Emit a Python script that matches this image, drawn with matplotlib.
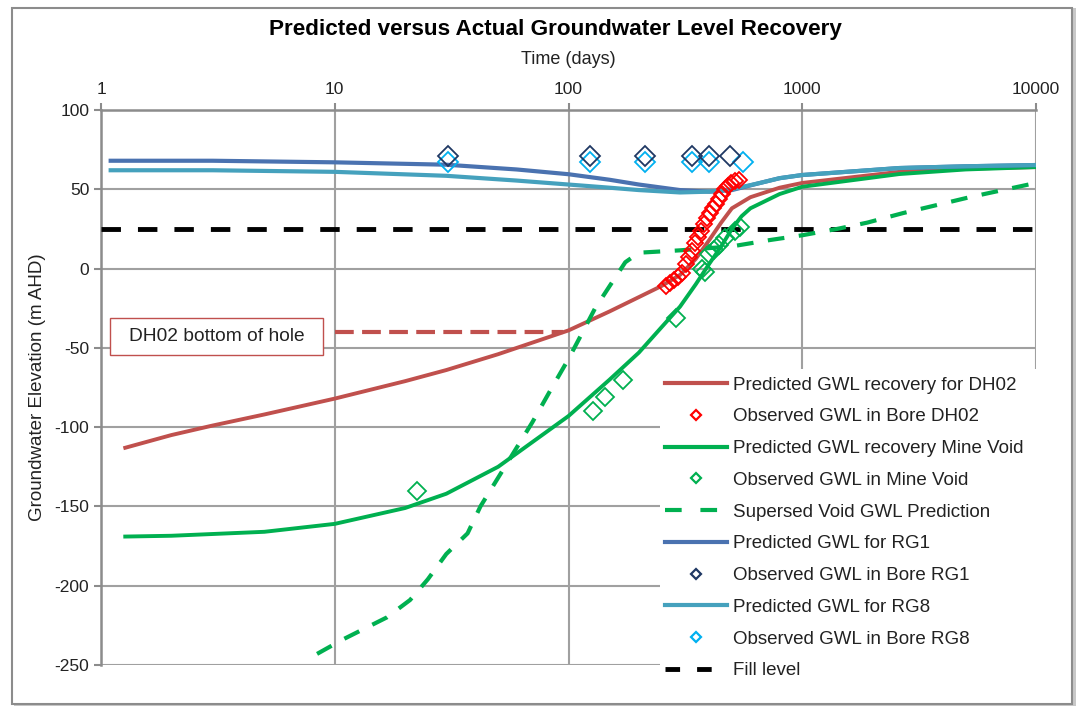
import matplotlib
matplotlib.use("Agg")
import matplotlib.pyplot as plt
import matplotlib.patches as patches
from matplotlib.ticker import FixedLocator, FixedFormatter, NullLocator
import numpy as np


# =====================================================================================================================

plt.rcParams['font.family'] = ['Liberation Sans', 'DejaVu Sans']
plt.rcParams['axes.unicode_minus'] = False

# Predicted GWL recovery for DH02
dh02_t = [1.27, 2, 3, 5, 10, 20, 30, 50, 100, 150, 200, 250, 300, 350, 400, 450, 500, 600, 800, 1000, 2600, 5000, 10000]
dh02_y = [-113, -105, -99, -92, -82, -71, -64, -54, -39, -27, -18, -11, -4, 6, 18, 29, 38, 45, 51, 54, 61, 63, 64]

# Observed GWL in Bore DH02
obs_dh02_t = [261, 272, 283, 294, 306, 318, 328, 338, 348, 358, 369, 380, 391, 403, 415, 428, 440, 454, 467, 481, 496,
              516, 536]
obs_dh02_y = [-11, -9, -7, -5, -3, 3, 7, 11, 16, 20, 24, 28, 32, 35, 38, 41, 44, 47, 50, 52, 54, 55, 56]

# Predicted GWL recovery Mine Void
void_t = [1.27, 2, 5, 10, 20, 30, 50, 100, 150, 200, 250, 300, 350, 400, 450, 500, 550, 600, 800, 1000, 2600, 5000,
          10000]
void_y = [-169, -168.5, -166, -161, -151, -142, -125, -93, -70, -53, -37, -24, -10, 3, 14, 25, 33, 38, 47, 51.6, 59.6,
          62.5, 64]

# Observed GWL in Mine Void
obs_void_t = [22.5, 127, 143, 171, 288, 372, 385, 400, 420, 440, 465, 515, 540]
obs_void_y = [-140, -90, -81, -70, -31, 0, -2, 9, 12, 15, 19, 24, 26]

# Supersed Void GWL Prediction
old_void_t = [8.4, 10.8, 16.7, 21, 25, 30, 37, 42, 55, 70, 85, 100, 115, 130, 150, 175, 200, 300, 500, 728, 1000,
              1409, 1900, 2700, 3750, 5200, 7200, 10000]
old_void_y = [-243, -234, -220, -209, -196, -180, -167, -150, -122, -97, -75, -57, -40, -25, -11, 4, 10, 11.5, 14, 18,
              21, 25, 29, 35, 40, 45, 49.5, 54]

# Predicted / observed GWL for RG1
rg1_t = [1.1, 3, 10, 30, 60, 100, 150, 200, 300, 400, 500, 660, 800, 1000, 2600, 5000, 10000]
rg1_y = [68, 68, 67, 65.5, 62.5, 59.5, 56, 53, 49.5, 48.5, 49.5, 54, 57, 59, 63.4, 64.5, 65.3]
obs_rg1_t = [30.5, 123.6, 212, 337, 399, 491]
obs_rg1_y = [71, 71, 71, 71, 71, 71]

# Predicted / observed GWL for RG8
rg8_t = [1.1, 3, 10, 30, 60, 100, 150, 200, 300, 400, 500, 660, 800, 1000, 2600, 5000, 10000]
rg8_y = [62, 62, 61, 58.5, 55.5, 53, 51, 49.5, 48, 48.5, 50, 54, 57, 59, 63.4, 64.5, 65.3]
obs_rg8_t = [30.5, 123.6, 212, 337, 399, 558]
obs_rg8_y = [67, 67, 67, 67, 67, 67]

# Fill level and DH02 bottom of hole
fill_t = [1, 10000]
fill_y = [25, 25]
hole_t = [10, 95]
hole_y = [-40, -40]

x_ticks = [1, 10, 100, 1000, 10000]
y_ticks = [100, 50, 0, -50, -100, -150, -200, -250]

# =====================================================================================================================

fig = plt.figure(figsize=(10.79, 7.08), dpi=100)
ax = fig.add_axes([101 / 1079, 1 - 665 / 708, 935 / 1079, 555 / 708])

# outer chart frame
fig.patches.append(patches.Rectangle((14 / 1079, 1 - 706 / 708), 1062 / 1079, 698 / 708, transform=fig.transFigure,
                                     facecolor='#c8c8c8', edgecolor='none', zorder=-2))
fig.patches.append(patches.Rectangle((12 / 1079, 1 - 704 / 708), 1060 / 1079, 696 / 708, transform=fig.transFigure,
                                     facecolor='white', edgecolor='#8c8c8c', linewidth=1.5, zorder=-1))

red_line = '#c0504d'
green = '#00b050'

ax.plot(hole_t, hole_y, color=red_line, linewidth=3, dashes=(4.5, 2), zorder=3)
ax.plot(fill_t, fill_y, color='black', linewidth=3.5, dashes=(4, 3.5), zorder=3)

ax.plot(dh02_t, dh02_y, color=red_line, linewidth=2.8, zorder=4)
ax.plot(void_t, void_y, color=green, linewidth=2.8, zorder=4)
ax.plot(old_void_t, old_void_y, color=green, linewidth=3, dashes=(4, 3.5), zorder=4)
ax.plot(rg1_t, rg1_y, color='#4a72b0', linewidth=3, zorder=4)
ax.plot(rg8_t, rg8_y, color='#45a1bd', linewidth=3, zorder=4)

mk = dict(marker='D', linestyle='none', markerfacecolor='none', markeredgewidth=1.3, zorder=5)
ax.plot(obs_dh02_t, obs_dh02_y, markeredgecolor='#ff0000', markersize=8.5, **mk)
ax.plot(obs_void_t, obs_void_y, markeredgecolor=green, markersize=9, **mk)
ax.plot(obs_rg8_t, obs_rg8_y, markeredgecolor='#00b0f0', markersize=10, **mk)
ax.plot(obs_rg1_t, obs_rg1_y, markeredgecolor='#1f3864', markersize=10, **mk)

ax.set_xscale('log')
ax.set_xlim(1, 10000)
ax.set_ylim(-250, 100)
ax.xaxis.set_major_locator(FixedLocator(x_ticks))
ax.xaxis.set_major_formatter(FixedFormatter([str(t) for t in x_ticks]))
ax.xaxis.set_minor_locator(NullLocator())
ax.yaxis.set_major_locator(FixedLocator(y_ticks))
ax.yaxis.set_major_formatter(FixedFormatter([str(t) for t in y_ticks]))
ax.xaxis.tick_top()
ax.xaxis.set_label_position('top')
ax.tick_params(axis='both', direction='out', length=5, width=1.5, color='#8c8c8c', labelsize=12.5, labelcolor='#222222')
ax.tick_params(axis='x', pad=4)
ax.grid(True, color='#a0a0a0', linewidth=1.5)
ax.set_axisbelow(True)
for side in ['right', 'bottom']:
    ax.spines[side].set_visible(False)
for side in ['left', 'top']:
    ax.spines[side].set_color('#8c8c8c')
    ax.spines[side].set_linewidth(1.8)

ax.set_xlabel("Time (days)", fontsize=13, labelpad=13, color='#222222')
ax.set_ylabel("Groundwater Elevation (m AHD)", fontsize=13.5, labelpad=6, color='#222222')
fig.text(555 / 1079, 1 - 30 / 708, "Predicted versus Actual Groundwater Level Recovery", fontsize=16.2,
         fontweight='bold', ha='center', va='center')

# DH02 bottom of hole label box
ax.add_patch(patches.Rectangle((0.0096, 0.5586), 0.2278, 0.0667, transform=ax.transAxes, facecolor='white',
                               edgecolor=red_line, linewidth=1, zorder=6))
ax.text(0.1235, 0.592, "DH02 bottom of hole", transform=ax.transAxes, fontsize=13.8, ha='center', va='center',
        color='#222222', zorder=7)

# white legend area, reaching past the plot edges like the original
ax.add_patch(patches.Rectangle((0.598, -0.056), 0.41, 0.59, transform=ax.transAxes, facecolor='white',
                               edgecolor='none', clip_on=False, zorder=7))

# legend, in the order of the original
lm = dict(marker='D', linestyle='none', markerfacecolor='none', markeredgewidth=1.6, markersize=5)
handles = [
    plt.Line2D([], [], color=red_line, linewidth=3),
    plt.Line2D([], [], markeredgecolor='#ff0000', **lm),
    plt.Line2D([], [], color=green, linewidth=3),
    plt.Line2D([], [], markeredgecolor=green, **lm),
    plt.Line2D([], [], color=green, linewidth=3, dashes=(4, 4.5)),
    plt.Line2D([], [], color='#4a72b0', linewidth=3),
    plt.Line2D([], [], markeredgecolor='#1f3864', **lm),
    plt.Line2D([], [], color='#45a1bd', linewidth=3),
    plt.Line2D([], [], markeredgecolor='#00b0f0', **lm),
    plt.Line2D([], [], color='black', linewidth=3.5, dashes=(3, 3.5)),
]
labels = ["Predicted GWL recovery for DH02", "Observed GWL in Bore DH02", "Predicted GWL recovery Mine Void",
          "Observed GWL in Mine Void", "Supersed Void GWL Prediction", "Predicted GWL for RG1",
          "Observed GWL in Bore RG1", "Predicted GWL for RG8", "Observed GWL in Bore RG8", "Fill level"]
leg = ax.legend(handles, labels, loc='upper left', bbox_to_anchor=(0.597, 0.530), frameon=False, fontsize=13.5,
                handlelength=3.3, labelspacing=0.78, handletextpad=0.32, borderpad=0.3, borderaxespad=0)
leg.set_zorder(8)
for t in leg.get_texts():
    t.set_color('#222222')

plt.savefig("out.png", dpi=100)
